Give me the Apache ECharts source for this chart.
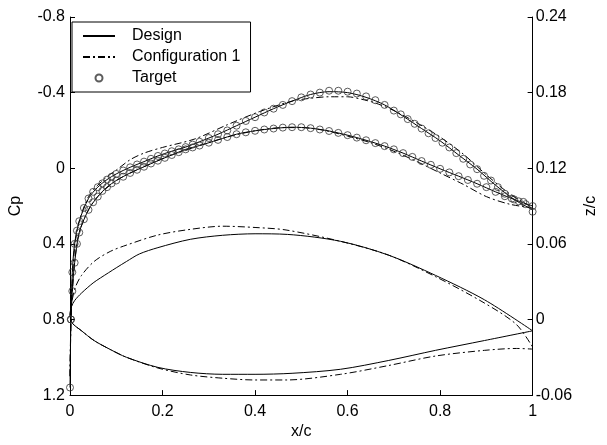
<!DOCTYPE html>
<html style="height: 100%">
<head>
<meta charset="utf-8">
</head>
<body style="height: 100%; margin: 0; background: #fff">
<div id="container" style="width: 607px; height: 445px"></div>
<script src="https://cdn.jsdelivr.net/npm/echarts@6/dist/echarts.min.js"></script>
<script>
// pressure distributions, [x/c, Cp]
var targetUpper = [
  [0, 1.16], [0.002, 0.80], [0.005, 0.55], [0.01, 0.40], [0.015, 0.33], [0.02, 0.28],
  [0.03, 0.21], [0.04, 0.16], [0.05, 0.125], [0.06, 0.10], [0.07, 0.08], [0.08, 0.06],
  [0.09, 0.045], [0.10, 0.03], [0.115, 0.012], [0.13, -0.005], [0.145, -0.02], [0.16, -0.035],
  [0.175, -0.05], [0.19, -0.065], [0.205, -0.078], [0.22, -0.09], [0.235, -0.10], [0.25, -0.112],
  [0.265, -0.125], [0.28, -0.14], [0.30, -0.16], [0.32, -0.18], [0.34, -0.20], [0.36, -0.225],
  [0.38, -0.25], [0.40, -0.27], [0.42, -0.295], [0.44, -0.315], [0.46, -0.335], [0.48, -0.355],
  [0.50, -0.375], [0.52, -0.39], [0.54, -0.40], [0.56, -0.41], [0.58, -0.41], [0.60, -0.405],
  [0.62, -0.395], [0.64, -0.38], [0.66, -0.36], [0.68, -0.335], [0.70, -0.305], [0.715, -0.285],
  [0.73, -0.26], [0.745, -0.235], [0.76, -0.21], [0.775, -0.185], [0.79, -0.16], [0.805, -0.135],
  [0.82, -0.11], [0.835, -0.08], [0.85, -0.05], [0.865, -0.02], [0.88, 0.005], [0.895, 0.04],
  [0.91, 0.065], [0.925, 0.10], [0.94, 0.135], [0.955, 0.16], [0.97, 0.175], [0.985, 0.19], [1.0, 0.23]
];
var targetLower = [
  [0.002, 0.80], [0.005, 0.65], [0.01, 0.50], [0.015, 0.40], [0.02, 0.34], [0.03, 0.27],
  [0.04, 0.22], [0.05, 0.18], [0.06, 0.15], [0.07, 0.12], [0.08, 0.10], [0.09, 0.08],
  [0.10, 0.065], [0.115, 0.045], [0.13, 0.025], [0.145, 0.008], [0.16, -0.008], [0.175, -0.025],
  [0.19, -0.04], [0.205, -0.055], [0.22, -0.07], [0.235, -0.085], [0.25, -0.10], [0.265, -0.11],
  [0.28, -0.12], [0.30, -0.135], [0.32, -0.15], [0.34, -0.165], [0.36, -0.18], [0.38, -0.19],
  [0.40, -0.198], [0.42, -0.205], [0.44, -0.21], [0.46, -0.215], [0.48, -0.217], [0.50, -0.217],
  [0.52, -0.212], [0.54, -0.205], [0.56, -0.197], [0.58, -0.187], [0.60, -0.175], [0.62, -0.162],
  [0.64, -0.148], [0.66, -0.133], [0.68, -0.117], [0.70, -0.10], [0.72, -0.08], [0.74, -0.06],
  [0.76, -0.038], [0.78, -0.018], [0.80, 0.003], [0.82, 0.022], [0.84, 0.042], [0.86, 0.062],
  [0.88, 0.082], [0.90, 0.10], [0.92, 0.125], [0.94, 0.148], [0.96, 0.165], [0.98, 0.178], [1.0, 0.20]
];
var designCpUpper = [
  [0, 1.16], [0.002, 0.80], [0.005, 0.55], [0.01, 0.40], [0.02, 0.28], [0.04, 0.16],
  [0.06, 0.10], [0.08, 0.06], [0.10, 0.03], [0.13, -0.005], [0.16, -0.035], [0.19, -0.065],
  [0.22, -0.09], [0.25, -0.112], [0.28, -0.14], [0.32, -0.18], [0.36, -0.225], [0.40, -0.27],
  [0.44, -0.315], [0.48, -0.355], [0.52, -0.39], [0.56, -0.405], [0.60, -0.40], [0.64, -0.375],
  [0.68, -0.335], [0.72, -0.275], [0.76, -0.21], [0.80, -0.145], [0.84, -0.07], [0.88, 0.005],
  [0.92, 0.09], [0.96, 0.165], [1.0, 0.22]
];
var designCpLower = [
  [0.002, 0.80], [0.005, 0.65], [0.01, 0.50], [0.02, 0.34], [0.04, 0.22], [0.06, 0.15],
  [0.08, 0.10], [0.10, 0.065], [0.13, 0.025], [0.16, -0.008], [0.19, -0.04], [0.22, -0.07],
  [0.25, -0.10], [0.28, -0.12], [0.32, -0.15], [0.36, -0.18], [0.40, -0.198], [0.44, -0.21],
  [0.48, -0.217], [0.52, -0.212], [0.56, -0.197], [0.60, -0.175], [0.64, -0.148], [0.68, -0.117],
  [0.72, -0.08], [0.76, -0.038], [0.80, 0.003], [0.84, 0.042], [0.88, 0.082], [0.92, 0.125],
  [0.96, 0.165], [1.0, 0.20]
];
var config1CpUpper = [
  [0, 1.10], [0.003, 0.70], [0.01, 0.42], [0.02, 0.28], [0.04, 0.15], [0.06, 0.09],
  [0.08, 0.045], [0.10, 0.01], [0.13, -0.045], [0.16, -0.08], [0.20, -0.11], [0.27, -0.155],
  [0.34, -0.23], [0.41, -0.30], [0.48, -0.355], [0.52, -0.37], [0.56, -0.378], [0.60, -0.378],
  [0.63, -0.365], [0.66, -0.345], [0.70, -0.305], [0.75, -0.24], [0.80, -0.165], [0.85, -0.075],
  [0.90, 0.035], [0.95, 0.135], [0.98, 0.18], [1.0, 0.21]
];
var config1CpLower = [
  [0, 1.10], [0.003, 0.75], [0.01, 0.50], [0.02, 0.34], [0.04, 0.22], [0.06, 0.15],
  [0.10, 0.065], [0.16, -0.008], [0.22, -0.07], [0.28, -0.12], [0.34, -0.165], [0.40, -0.198],
  [0.46, -0.215], [0.50, -0.215], [0.55, -0.20], [0.60, -0.17], [0.65, -0.135], [0.70, -0.09],
  [0.75, -0.035], [0.80, 0.025], [0.85, 0.085], [0.90, 0.15], [0.95, 0.19], [1.0, 0.21]
];
// airfoil geometry, [x/c, z/c]
var designShapeUpper = [
  [0, 0.004], [0.003, 0.010], [0.01, 0.015], [0.025, 0.021], [0.05, 0.029], [0.066, 0.033],
  [0.10, 0.041], [0.122, 0.046], [0.15, 0.052], [0.19, 0.057], [0.26, 0.0636], [0.33, 0.0668],
  [0.40, 0.068], [0.47, 0.0675], [0.585, 0.062], [0.689, 0.051], [0.79, 0.035], [0.896, 0.0156],
  [1.0, -0.009]
];
var designShapeLower = [
  [0, 0.004], [0.004, -0.0025], [0.025, -0.009], [0.052, -0.0167], [0.087, -0.0238], [0.122, -0.030],
  [0.19, -0.038], [0.26, -0.042], [0.33, -0.0435], [0.40, -0.0435], [0.48, -0.0427], [0.585, -0.0395],
  [0.689, -0.0325], [0.79, -0.0245], [0.896, -0.0167], [1.0, -0.009]
];
var config1ShapeUpper = [
  [0, 0.004], [0.003, 0.012], [0.011, 0.025], [0.025, 0.035], [0.052, 0.046], [0.087, 0.054],
  [0.122, 0.059], [0.19, 0.067], [0.26, 0.0715], [0.33, 0.074], [0.40, 0.073], [0.467, 0.071],
  [0.585, 0.062], [0.689, 0.051], [0.79, 0.034], [0.896, 0.013], [0.965, -0.004], [1.0, -0.022]
];
var config1ShapeLower = [
  [0, 0.004], [0.004, -0.0025], [0.025, -0.009], [0.052, -0.0167], [0.087, -0.0238], [0.122, -0.030],
  [0.19, -0.0385], [0.26, -0.044], [0.33, -0.0466], [0.40, -0.048], [0.467, -0.048], [0.585, -0.0435],
  [0.689, -0.0365], [0.79, -0.029], [0.896, -0.0245], [0.965, -0.023], [1.0, -0.0235]
];

var font = 'Liberation Sans';
var dashDot = [7, 3, 2, 3];

var chart = echarts.init(document.getElementById('container'), null, {renderer: 'canvas'});

function lineSeries(name, data, axis, dash) {
  return {
    name: name,
    type: 'line',
    yAxisIndex: axis,
    data: data,
    symbol: 'none',
    smooth: 0.3,
    lineStyle: {color: '#000', width: 1, type: dash ? dashDot : 'solid'},
    itemStyle: {color: '#000'},
    z: 3
  };
}

var axisCommon = {
  axisLine: {show: true, onZero: false, lineStyle: {color: '#000', width: 1}},
  axisTick: {show: true, inside: true, length: 5, lineStyle: {color: '#000'}},
  axisLabel: {color: '#000', fontFamily: font, fontSize: 16},
  splitLine: {show: false},
  nameTextStyle: {color: '#000', fontFamily: font, fontSize: 16}
};

var option = {
  animation: false,
  backgroundColor: '#fff',
  grid: {left: 68, right: 57, top: 17, bottom: 47},
  legend: {
    left: 72, top: 22,
    orient: 'vertical',
    padding: [6, 10, 6, 10],
    itemGap: 5,
    itemWidth: 32,
    itemHeight: 7,
    backgroundColor: '#fff',
    borderColor: '#000',
    borderWidth: 1,
    textStyle: {color: '#000', fontFamily: font, fontSize: 16, lineHeight: 16, padding: [0, 0, 0, 12]},
    data: [
      {name: 'Design', itemStyle: {opacity: 0}},
      {name: 'Configuration 1', itemStyle: {opacity: 0}},
      {name: 'Target', icon: 'circle'}
    ]
  },
  xAxis: Object.assign({}, axisCommon, {
    type: 'value', min: 0, max: 1, interval: 0.2,
    name: 'x/c', nameLocation: 'middle', nameGap: 28,
    axisLabel: Object.assign({}, axisCommon.axisLabel, {margin: 8,
      formatter: function (v) { return String(+v.toFixed(1)); }})
  }),
  yAxis: [
    Object.assign({}, axisCommon, {
      type: 'value', inverse: true, min: -0.8, max: 1.2, interval: 0.4,
      name: 'Cp', nameLocation: 'middle', nameGap: 46,
      axisLabel: Object.assign({}, axisCommon.axisLabel, {margin: 5,
        formatter: function (v) { return String(+v.toFixed(1)); }})
    }),
    Object.assign({}, axisCommon, {
      type: 'value', position: 'right', min: -0.06, max: 0.24, interval: 0.06,
      name: 'z/c', nameLocation: 'middle', nameGap: 42,
      axisLabel: Object.assign({}, axisCommon.axisLabel, {margin: 3,
        formatter: function (v) { return String(+v.toFixed(2)); }})
    })
  ],
  series: [
    lineSeries('Design', designCpUpper, 0, false),
    lineSeries('Design', designCpLower, 0, false),
    lineSeries('Design', designShapeUpper, 1, false),
    lineSeries('Design', designShapeLower, 1, false),
    lineSeries('Configuration 1', config1CpUpper, 0, true),
    lineSeries('Configuration 1', config1CpLower, 0, true),
    lineSeries('Configuration 1', config1ShapeUpper, 1, true),
    lineSeries('Configuration 1', config1ShapeLower, 1, true),
    {
      name: 'Target', type: 'scatter', yAxisIndex: 0, data: targetUpper,
      symbol: 'circle', symbolSize: 7,
      itemStyle: {color: 'rgba(255,255,255,0)', borderColor: '#333', borderWidth: 1}, z: 4
    },
    {
      name: 'Target', type: 'scatter', yAxisIndex: 0, data: targetLower,
      symbol: 'circle', symbolSize: 7,
      itemStyle: {color: 'rgba(255,255,255,0)', borderColor: '#333', borderWidth: 1}, z: 4
    }
  ]
};

chart.setOption(option);
</script>
</body>
</html>
